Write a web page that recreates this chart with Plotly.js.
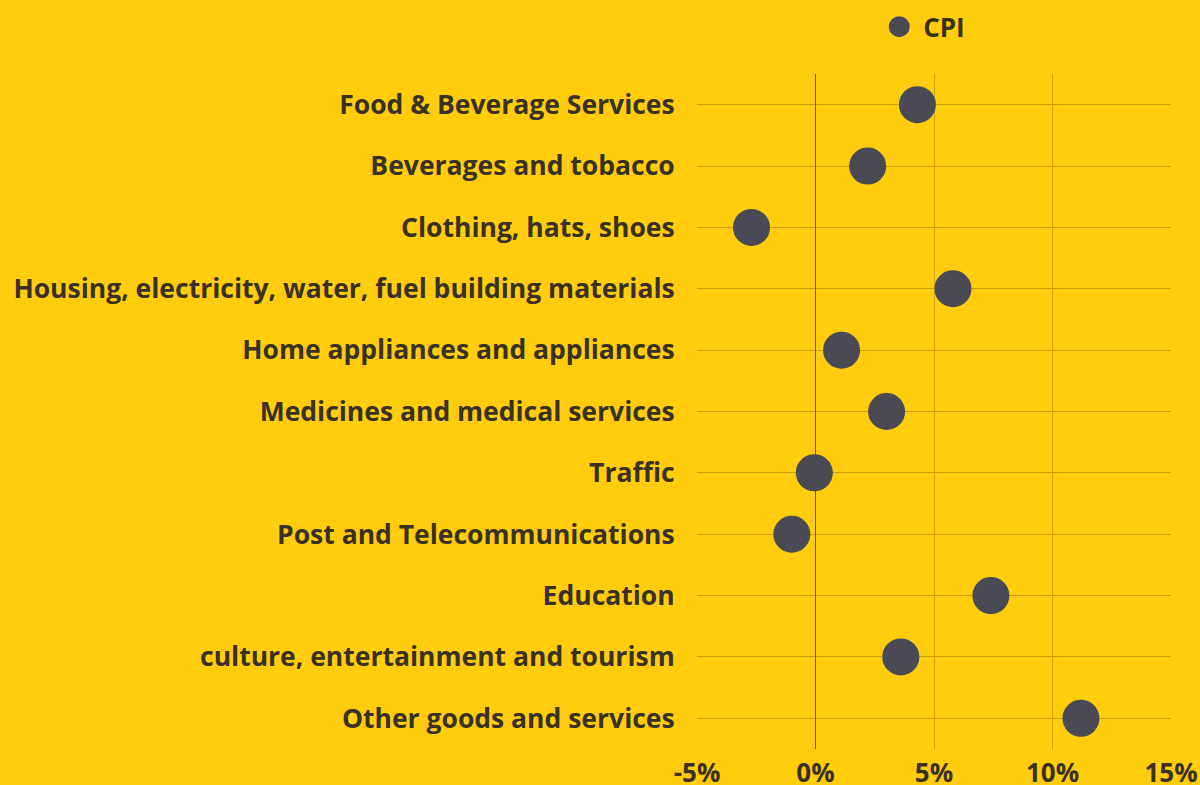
<!DOCTYPE html>
<html>
<head>
<meta charset="utf-8">
<script src="https://cdn.plot.ly/plotly-3.0.1.min.js"></script>
<style>
html,body{margin:0;padding:0;background:#FFCD0D;}
#chart{width:1200px;height:785px;}
</style>
</head>
<body>
<div id="chart"></div>
<script>
const categories = [
  "Food & Beverage Services",
  "Beverages and tobacco",
  "Clothing, hats, shoes",
  "Housing, electricity, water, fuel building materials",
  "Home appliances and appliances",
  "Medicines and medical services",
  "Traffic",
  "Post and Telecommunications",
  "Education",
  "culture, entertainment and tourism",
  "Other goods and services"
];
const cpiValues = [4.3, 2.2, -2.7, 5.8, 1.1, 3.0, -0.05, -1.0, 7.4, 3.6, 11.2];
const xTickVals = [-5, 0, 5, 10, 15];
const xTickText = ["-5%", "0%", "5%", "10%", "15%"];

const textColor = "#3a3024";
const bg = "#FFCD0D";
const fontFam = "Open Sans, sans-serif";

const trace = {
  type: "scatter",
  mode: "markers",
  name: "CPI",
  x: cpiValues,
  y: categories,
  marker: {size: 32, color: "#4a4a54", line: {color: "#4a4a54", width: 5}},
  hoverinfo: "x+y"
};

const layout = {
  width: 1200,
  height: 785,
  paper_bgcolor: bg,
  plot_bgcolor: bg,
  margin: {l: 697, r: 29, t: 74, b: 36, autoexpand: false},
  font: {family: fontFam, size: 26, color: textColor, weight: "bold"},
  showlegend: true,
  legend: {
    orientation: "h",
    x: 0.376, xanchor: "left",
    y: 1.07, yanchor: "middle",
    font: {family: fontFam, size: 26, color: textColor, weight: "bold"},
    bgcolor: "rgba(0,0,0,0)",
    itemsizing: "trace",
    itemwidth: 38
  },
  xaxis: {
    range: [-5, 15],
    tickvals: xTickVals,
    ticktext: xTickText,
    showgrid: true,
    gridcolor: "#c9a00c",
    gridwidth: 1,
    zeroline: true,
    zerolinecolor: "#6b5a1c",
    zerolinewidth: 1,
    showline: false,
    ticks: "outside",
    ticklen: 1,
    tickcolor: "rgba(0,0,0,0)",
    tickfont: {family: fontFam, size: 26, color: textColor, weight: "bold"},
    fixedrange: true
  },
  yaxis: {
    type: "category",
    categoryorder: "array",
    categoryarray: categories,
    range: [10.5, -0.5],
    showgrid: true,
    gridcolor: "#c9a00c",
    gridwidth: 1,
    showline: false,
    zeroline: false,
    ticks: "outside",
    ticklen: 16,
    tickcolor: "rgba(0,0,0,0)",
    tickfont: {family: fontFam, size: 26.5, color: textColor, weight: "bold"},
    fixedrange: true
  }
};

Plotly.newPlot("chart", [trace], layout, {displayModeBar: false, responsive: false});
</script>
</body>
</html>
